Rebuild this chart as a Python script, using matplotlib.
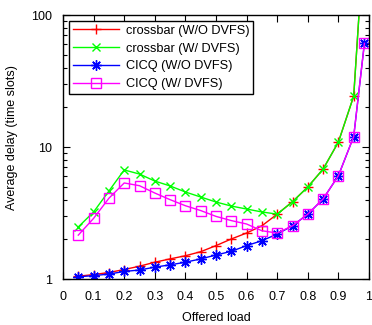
import matplotlib
matplotlib.use("Agg")
import matplotlib.pyplot as plt
from matplotlib.ticker import NullFormatter, LogLocator

loads = [0.05, 0.1, 0.15, 0.2, 0.25, 0.3, 0.35, 0.4, 0.45, 0.5, 0.55,
         0.6, 0.65, 0.7, 0.75, 0.8, 0.85, 0.9, 0.95, 0.985]

crossbar_wo = [1.05, 1.08, 1.12, 1.18, 1.25, 1.34, 1.42, 1.50, 1.61, 1.79, 2.01,
               2.23, 2.53, 3.10, 3.85, 4.98, 6.8, 10.9, 24.3, 430]
crossbar_w = [2.48, 3.22, 4.64, 6.7, 6.24, 5.52, 5.07, 4.56, 4.18, 3.83, 3.57,
              3.39, 3.22, 3.10, 3.85, 4.98, 6.8, 10.9, 24.3, 430]
cicq_wo = [1.04, 1.06, 1.09, 1.14, 1.17, 1.23, 1.28, 1.34, 1.42, 1.52, 1.62,
           1.79, 1.95, 2.19, 2.53, 3.10, 4.04, 6.06, 12.0, 61]
cicq_w = [2.15, 2.88, 4.09, 5.34, 5.09, 4.48, 3.99, 3.59, 3.30, 2.98, 2.77,
          2.61, 2.32, 2.23, 2.53, 3.10, 4.04, 6.06, 12.0, 61]

labels = ["crossbar (W/O DVFS)", "crossbar (W/ DVFS)", "CICQ (W/O DVFS)", "CICQ (W/ DVFS)"]
xticks = [0, 0.1, 0.2, 0.3, 0.4, 0.5, 0.6, 0.7, 0.8, 0.9, 1]
xticklabels = ["0", "0.1", "0.2", "0.3", "0.4", "0.5", "0.6", "0.7", "0.8", "0.9", "1"]

plt.rcParams['font.family'] = ['Liberation Sans', 'DejaVu Sans']
fig = plt.figure(figsize=(3.72, 3.25), dpi=100)
ax = fig.add_axes([63/372, 1 - 279/325, (369-63)/372, (279-15)/325])

ms = 7.5
ax.plot(loads, crossbar_wo, color='#ff0000', lw=1, marker='+', ms=ms, mew=1, label=labels[0])
ax.plot(loads, crossbar_w, color='#00ff00', lw=1, marker='x', ms=ms*0.85, mew=1, label=labels[1])
ax.plot(loads, cicq_wo, color='#0000ff', lw=1, marker=(8, 2, 0), ms=ms, mew=1, label=labels[2])
ax.plot(loads, cicq_w, color='#ff00ff', lw=1, marker='s', ms=ms*0.95, mew=1, mfc='none', label=labels[3])

ax.set_yscale('log')
ax.set_xlim(0, 1)
ax.set_ylim(1, 100)
ax.set_xticks(xticks)
ax.set_xticklabels(xticklabels)
ax.set_yticks([1, 10, 100])
ax.set_yticklabels(["1", "10", "100"])
ax.yaxis.set_minor_locator(LogLocator(base=10, subs=range(2, 10)))
ax.yaxis.set_minor_formatter(NullFormatter())
ax.tick_params(which='both', direction='in', top=True, right=True, labelsize=9)
ax.tick_params(axis='x', pad=9)
ax.tick_params(axis='y', pad=8)
ax.tick_params(which='major', length=5, width=0.8)
ax.tick_params(which='minor', length=3, width=0.8)
for s in ax.spines.values():
    s.set_linewidth(1)

ax.set_xlabel("Offered load", fontsize=9)
ax.set_ylabel("Average delay (time slots)", fontsize=9)
ax.xaxis.set_label_coords(0.5, (279 - 312) / 264)
ax.yaxis.set_label_coords((18 - 63) / 306, (279 - 137.5) / 264)

leg = ax.legend(loc='upper left', fontsize=9.2, frameon=True, fancybox=False,
                edgecolor='black', framealpha=1, borderaxespad=0,
                bbox_to_anchor=(6/306, 1 - 6/264),
                handlelength=3.6, handletextpad=0.55, labelspacing=0.45,
                borderpad=0.3)
leg.get_frame().set_linewidth(1)

fig.savefig("out.png", dpi=100)
